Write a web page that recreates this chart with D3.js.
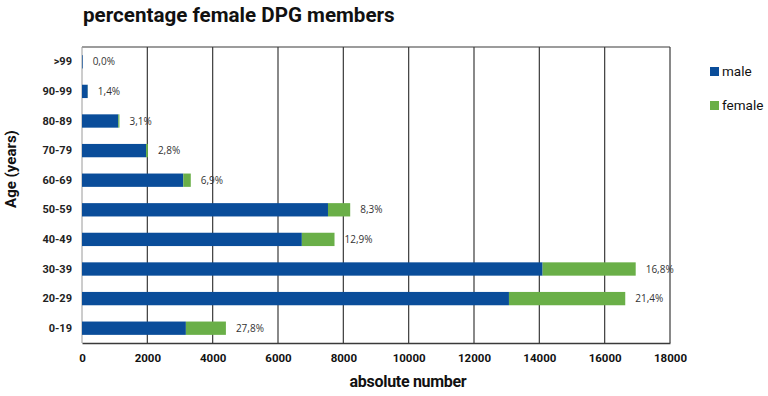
<!DOCTYPE html>
<html>
<head>
<meta charset="utf-8">
<script src="https://cdn.jsdelivr.net/npm/d3@7.9.0/dist/d3.min.js"></script>
<style>
  body { margin: 0; background: #fff; }
  svg { display: block; }
  .title { font-family: Roboto, "Open Sans", sans-serif; font-weight: 700; font-size: 20.6px; fill: #111; }
  .cat { font-family: "Liberation Sans Narrow", "Roboto", sans-serif; font-weight: 700; font-size: 11px; fill: #222; }
  .tick-x { font-family: "Liberation Sans Narrow", "Roboto", sans-serif; font-weight: 700; font-size: 11.5px; fill: #111; }
  .pct { font-family: "Open Sans", "DejaVu Sans", sans-serif; font-size: 10px; fill: #333; }
  .axis-title { font-family: Roboto, sans-serif; font-weight: 700; font-size: 16px; fill: #111; }
  .legend { font-family: Roboto, "Open Sans", sans-serif; font-size: 13.5px; fill: #111; }
</style>
</head>
<body>
<div id="chart"></div>
<script>
/* ---------------- DATA ---------------- */

const ageGroups = [">99", "90-99", "80-89", "70-79", "60-69", "50-59", "40-49", "30-39", "20-29", "0-19"];
const maleCounts = [20, 175, 1110, 1960, 3100, 7530, 6730, 14100, 13070, 3180];
const femaleCounts = [0, 4, 36, 57, 230, 680, 1000, 2850, 3560, 1225];
const femaleLabels = ["0,0%", "1,4%", "3,1%", "2,8%", "6,9%", "8,3%", "12,9%", "16,8%", "21,4%", "27,8%"];
const xTicks = [0, 2000, 4000, 6000, 8000, 10000, 12000, 14000, 16000, 18000];
const seriesNames = ["male", "female"];

const colors = { male: "#0a4d9a", female: "#6aaf48" };

const rows = ageGroups.map((age, i) => ({
  age,
  male: maleCounts[i],
  female: femaleCounts[i],
  label: femaleLabels[i]
}));

/* ---------------- CHART ---------------- */

const width = 768;
const height = 396;
const plot = { left: 82, right: 670, top: 47, bottom: 343 };

const svg = d3.select("#chart")
  .append("svg")
  .attr("width", width)
  .attr("height", height);

const x = d3.scaleLinear()
  .domain([0, 18000])
  .range([plot.left, plot.right]);

const y = d3.scaleBand()
  .domain(ageGroups)
  .range([plot.top, plot.bottom])
  .paddingInner(0.55)
  .paddingOuter(0.275);

svg.append("text")
  .attr("class", "title")
  .attr("x", 83)
  .attr("y", 22)
  .text("percentage female DPG members");

// gridlines
svg.append("g")
  .selectAll("line")
  .data(xTicks.slice(1))
  .join("line")
  .attr("x1", d => x(d))
  .attr("x2", d => x(d))
  .attr("y1", plot.top)
  .attr("y2", plot.bottom)
  .attr("stroke", "#3a3a3a")
  .attr("stroke-width", 1.2);

// top frame
svg.append("line")
  .attr("x1", plot.left).attr("x2", plot.right)
  .attr("y1", plot.top).attr("y2", plot.top)
  .attr("stroke", "#3a3a3a").attr("stroke-width", 1.2);

// left axis line
svg.append("line")
  .attr("x1", plot.left).attr("x2", plot.left)
  .attr("y1", plot.top).attr("y2", plot.bottom)
  .attr("stroke", "#9a9a9a").attr("stroke-width", 1);

// bars
const stack = d3.stack().keys(seriesNames)(rows);

svg.append("g")
  .selectAll("g")
  .data(stack)
  .join("g")
  .attr("fill", d => colors[d.key])
  .selectAll("rect")
  .data(d => d)
  .join("rect")
  .attr("x", d => x(d[0]))
  .attr("y", d => y(d.data.age))
  .attr("width", d => Math.max(0, x(d[1]) - x(d[0])))
  .attr("height", y.bandwidth());

// bottom axis
const xAxis = svg.append("g")
  .attr("transform", `translate(0,${plot.bottom})`)
  .call(d3.axisBottom(x).tickValues(xTicks).tickSize(0).tickPadding(11).tickFormat(d3.format("d")));
xAxis.select(".domain").attr("stroke", "#3a3a3a").attr("stroke-width", 1.4);
xAxis.selectAll("text").attr("class", "tick-x").attr("font-family", null).attr("font-size", null).attr("fill", null);

// category labels
const yAxis = svg.append("g")
  .attr("transform", `translate(${plot.left},0)`)
  .call(d3.axisLeft(y).tickSize(0).tickPadding(10));
yAxis.select(".domain").remove();
yAxis.selectAll("text").attr("class", "cat").attr("font-family", null).attr("font-size", null).attr("fill", null);

// percentage labels
svg.append("g")
  .selectAll("text")
  .data(rows)
  .join("text")
  .attr("class", "pct")
  .attr("x", d => x(d.male + d.female) + 10)
  .attr("y", d => y(d.age) + y.bandwidth() / 2)
  .attr("dy", "0.35em")
  .text(d => d.label);

// axis titles
svg.append("text")
  .attr("class", "axis-title")
  .attr("x", 408)
  .attr("y", 387)
  .attr("text-anchor", "middle")
  .style("letter-spacing", "-0.3px")
  .text("absolute number");

svg.append("text")
  .attr("class", "axis-title")
  .attr("transform", "translate(16,169) rotate(-90)")
  .attr("text-anchor", "middle")
  .style("font-size", "15px")
  .text("Age (years)");

// legend
const legend = svg.append("g")
  .selectAll("g")
  .data(seriesNames)
  .join("g")
  .attr("transform", (d, i) => `translate(710,${67 + i * 34})`);

legend.append("rect")
  .attr("width", 9)
  .attr("height", 9)
  .attr("fill", d => colors[d]);

legend.append("text")
  .attr("class", "legend")
  .attr("x", 12)
  .attr("y", 9)
  .text(d => d);
</script>
</body>
</html>
